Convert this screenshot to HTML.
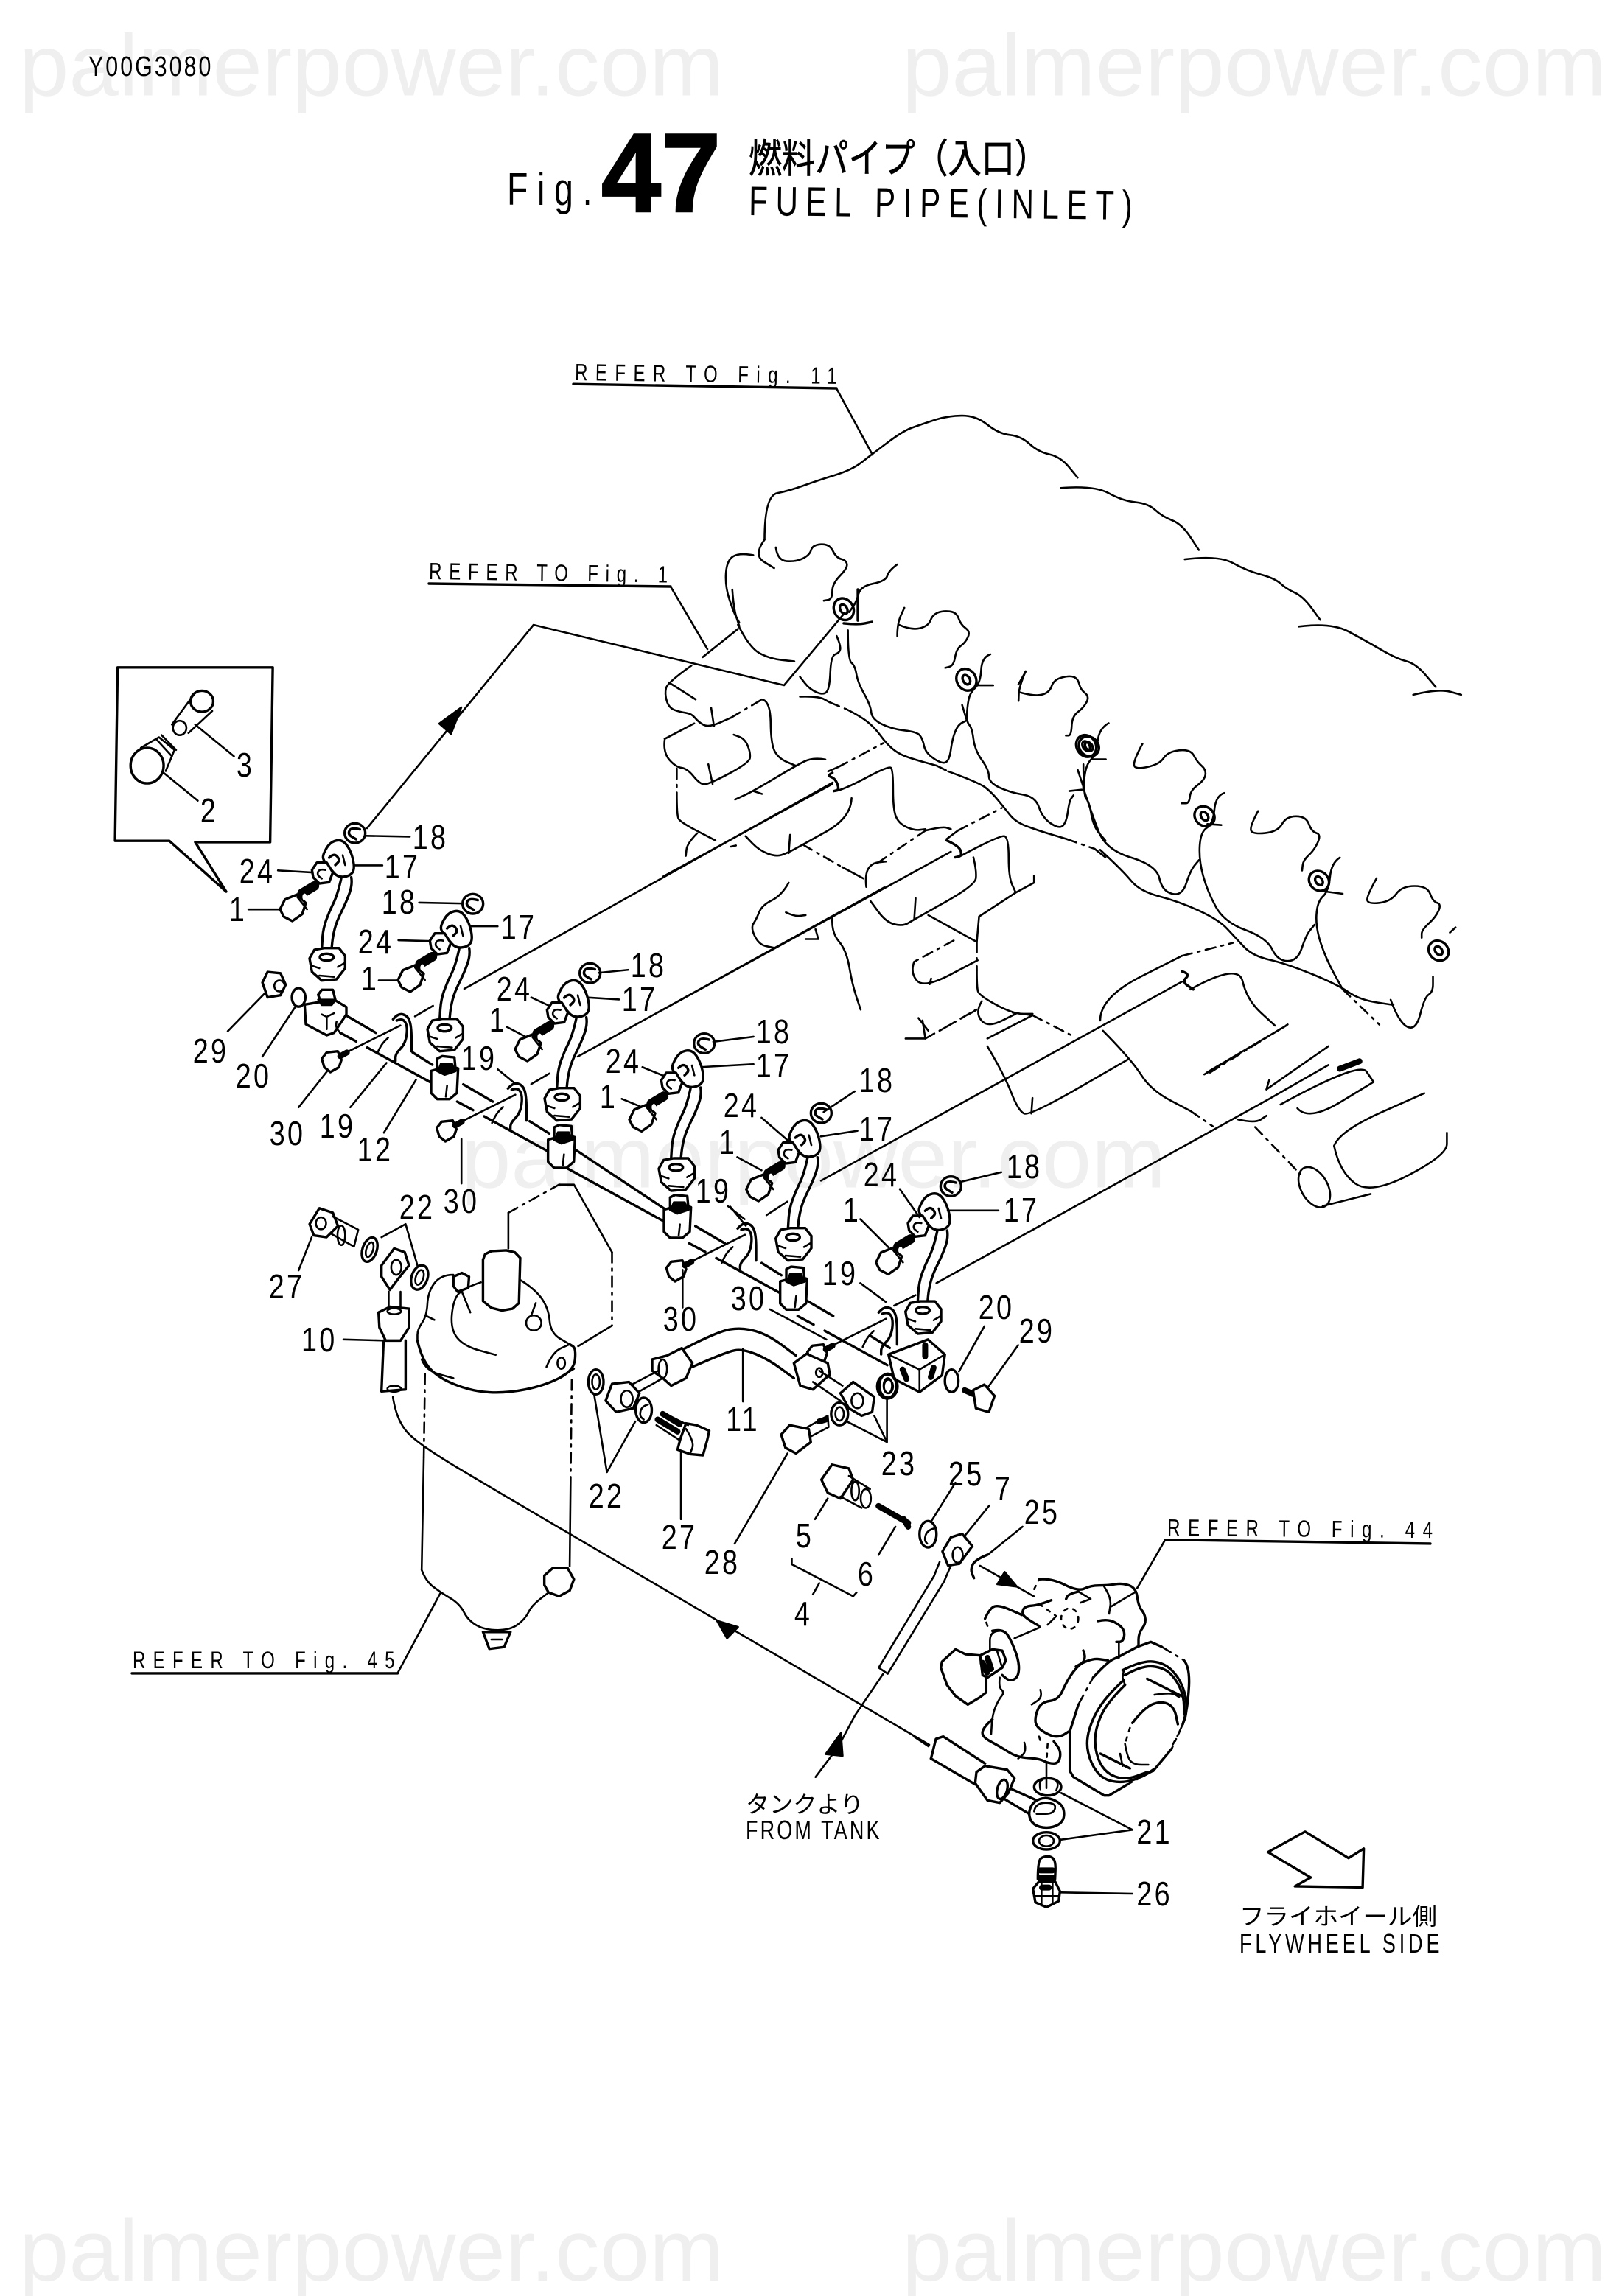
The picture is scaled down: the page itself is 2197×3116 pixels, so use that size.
<!DOCTYPE html>
<html><head><meta charset="utf-8"><title>Fig. 47 Fuel Pipe (Inlet)</title>
<style>
html,body{margin:0;padding:0;background:#fff}
svg{display:block}
path,line,ellipse,polyline{fill:none;stroke:#000;stroke-width:2.6;vector-effect:non-scaling-stroke;stroke-linejoin:round;stroke-linecap:round}
.w{fill:#fff}
.k{fill:#000}
.t{stroke-width:8}
.b{stroke-width:3.4}
.dd{stroke-dasharray:14 8 3 8}
.dt{stroke-dasharray:5 8}
text{font-family:"Liberation Sans","Noto Sans CJK JP",sans-serif;fill:#000}
.n{font-size:23px;text-anchor:middle;letter-spacing:2px}
.r{font-size:16px}
.wm{font-family:"Liberation Sans",sans-serif;font-size:59px;fill:#efefef}
</style></head><body>
<svg xmlns="http://www.w3.org/2000/svg" width="2197" height="3116" viewBox="0 0 1098.5 1558">
<defs>
<g id="pipe">
<path class="s b" d="M730 560 715 630 680 700 655 770 650 850"/>
<path class="s b" d="M770 560 775 590 750 660 710 740 695 800 690 850"/>
<path class="w b" d="M600 890 620 855 660 848 720 848 745 880 745 930 710 975 650 980 610 945Z"/>
<ellipse class="b" cx="670" cy="885" rx="28" ry="14"/>
<path d="M610 920 640 930M740 910 715 925M640 960 700 965"/>
<path class="s w b" d="M655 465 685 415 735 405 770 455 785 525 765 555 715 560 685 525 655 490Z"/>
<path class="s b" d="M680 480 700 460 725 490 705 510"/>
<path class="s" d="M735 470 745 510"/>
<path class="w b" d="M610 530 630 500 670 500 695 540 680 580 640 585 615 560Z"/>
<path class="s" d="M665 530 640 525 630 550 650 565"/>
<path class="s b" d="M805 365 770 355 755 385 790 405"/>
<ellipse class="b" cx="785" cy="380" rx="42" ry="40"/>
<path class="w b" d="M480 690 500 650 550 630 585 665 570 710 530 738 495 720Z"/>
<path class="t" style="stroke-width:13" d="M570 625 620 595"/>
<ellipse class="w" cx="580" cy="640" rx="9" ry="14" style="stroke:none"/>
<path d="M550 640 590 690"/>
</g>
<g id="clip">
<path class="s b" d="M460 850 480 825 520 835 535 880 535 980"/>
<path class="s b" d="M475 855 500 845 520 880 510 950 470 990 470 1020"/>
<path class="s" d="M395 990 410 955 440 925"/>
<path d="M270 985 490 875"/>
<path class="w b" d="M170 1010 190 985 235 980 250 1015 240 1045 205 1065 180 1045Z"/>
<path class="t" d="M245 1000 272 985"/>
</g>
<g id="ring">
<ellipse class="b" rx="17" ry="20" transform="rotate(-30)"/>
<ellipse class="b" rx="6" ry="9" transform="rotate(-30)"/>
</g>
<g id="seg">
<path class="b" d="M270 835 390 905M540 985 620 1035M245 905 310 940M355 965 610 1105"/>
</g>
<g id="blk">
<path class="w b" d="M615 1060 615 1150 640 1175 690 1175 720 1150 725 1050 690 1040Z"/>
<path class="s" d="M680 1120 675 1165"/>
<path class="w b" d="M640 1010 660 1000 710 1005 715 1060 670 1075 640 1060Z"/>
<path class="k" d="M645 1055 655 1030 700 1030 710 1055 670 1072Z"/>
</g>
</defs>

<!-- watermarks -->
<text class="wm" x="13" y="64.7" textLength="478" lengthAdjust="spacingAndGlyphs">palmerpower.com</text>
<text class="wm" x="612" y="64.7" textLength="478" lengthAdjust="spacingAndGlyphs">palmerpower.com</text>
<text class="wm" x="313" y="805.8" textLength="478" lengthAdjust="spacingAndGlyphs">palmerpower.com</text>
<text class="wm" x="13" y="1547.5" textLength="478" lengthAdjust="spacingAndGlyphs">palmerpower.com</text>
<text class="wm" x="612" y="1547.5" textLength="478" lengthAdjust="spacingAndGlyphs">palmerpower.com</text>

<!-- title -->
<text transform="matrix(.8 0 0 1 60 51.5)" font-size="19" textLength="104">Y00G3080</text>
<text transform="matrix(.75 0 0 1 344 139)" font-size="31" textLength="77">Fig.</text>
<text x="408" y="143.5" font-size="76" font-weight="700" stroke="#000" stroke-width="1.2" textLength="81" lengthAdjust="spacingAndGlyphs">47</text>
<text x="508" y="117" font-size="27" textLength="203" lengthAdjust="spacingAndGlyphs" stroke="#000" stroke-width=".4">燃料パイプ（入口）</text>
<text transform="rotate(0.66 508 146) matrix(.75 0 0 1 508 146)" font-size="28" textLength="347">FUEL PIPE(INLET)</text>

<!-- reference labels -->
<text class="r" transform="rotate(0.8 390 258) matrix(.75 0 0 1 390 258)" textLength="237">REFER TO Fig. 11</text>
<text class="r" transform="rotate(0.8 291 393) matrix(.75 0 0 1 291 393)" textLength="216">REFER TO Fig. 1</text>
<text class="r" transform="matrix(.75 0 0 1 90 1132)" textLength="237">REFER TO Fig. 45</text>
<text class="r" transform="rotate(0.5 792 1042) matrix(.75 0 0 1 792 1042)" textLength="240">REFER TO Fig. 44</text>
<path class="b" d="M389 260.6 567.5 263.5"/><path d="M567.5 263.5 592 308.6"/>
<path class="b" d="M291 396 455 398"/><path d="M455 398 480 440.5"/>

<!-- arrow leader to head -->
<path d="M249 562 362 424 532 465 573 416"/>
<path class="k" d="M313 480 298 491 306 498Z"/>
<path d="M315 671 565 531"/>

<!-- z7 engine middle -->
<g transform="translate(450,400) scale(.19133)">
<path class="s" d="M245 0 250 70 270 130"/>
<path d="M140 240 265 140"/>
<path class="s" d="M265 125 305 205 375 245 465 255"/>
<g transform="translate(640,70) scale(2)"><use href="#ring"/></g>
<path class="b" d="M690 0 690 110"/>
<path class="s b" d="M640 120 690 125 740 115"/>
<path class="s" d="M615 165 630 200 625 225 595 235 590 350 570 375 520 355 485 310"/>
<path class="s" d="M485 380 550 378 590 400"/>
<path class="dd" d="M590 400 650 425"/>
<path class="s" d="M650 425 700 450 750 490 790 545 830 580 880 600 970 625"/>
<path class="dd" d="M970 625 1010 645"/>
<path class="s" d="M1010 645 1120 685 1165 720 1210 775 1250 825 1330 855 1430 885"/>
<path class="dd" d="M1430 885 1530 920"/>
<path class="s" d="M1530 920 1568 950"/>
<path class="s" d="M655 145 655 250 680 270 690 330 735 410 740 460 810 495 900 505 920 530 930 580 990 620 1015 605 1025 530 1045 480 1075 465"/>
<path class="s" d="M830 165 830 120 855 65"/>
<path class="s" d="M835 125 880 145 940 130 955 90 990 75 1040 80 1055 125 1090 150 1070 190 1040 210 1030 270 1000 278"/>
<g transform="translate(1075,320) scale(2)"><use href="#ring"/></g>
<path class="s" d="M1160 230 1130 240 1125 330 1090 365 1080 400 1075 470 1095 490 1105 570 1155 640 1155 685 1230 720 1320 735 1345 810 1405 850 1430 825 1440 750 1455 730"/>
<path d="M1060 410 1075 460M1110 340 1170 340"/>
<path class="s" d="M1285 290 1262 345 1260 395"/>
<path class="s" d="M1265 365 1320 380 1370 365 1385 320 1440 305 1470 315 1480 355 1512 380 1490 420 1450 450 1447 518 1428 518"/>
<g transform="translate(1500,555) scale(2)"><use href="#ring"/></g>
<path class="s" d="M1490 620 1490 735 1510 750 1525 840 1568 890"/>
<path d="M1470 640 1490 700M1440 715 1485 710"/>

<path class="s" d="M100 270 15 330 5 370 20 420 60 435 100 440 125 470 160 490 240 455"/>
<path class="dd" d="M240 455 350 390"/>
<path class="s" d="M350 390 380 395 382 550 410 600 470 625"/>
<path class="s" d="M20 330 60 355 115 390"/>
<path class="s" d="M170 420 180 485"/>
<path d="M5 530 110 475"/>
<path class="s" d="M5 535 0 580 45 630 85 635 130 690 160 692 305 615 310 580 290 530 250 515"/>
<path class="s" d="M160 620 175 690"/>
<path class="dd" d="M48 635 48 720"/>
<path class="s" d="M48 720 48 800 60 825 185 890"/>
<path class="s" d="M120 865 85 900 80 945"/>
<path d="M0 1018 600 690"/>
<path class="s b" d="M600 650 580 660 610 670 625 710 605 715"/>
<path class="s" d="M575 603 530 595 470 625 320 715 255 745"/>
<path d="M320 715 350 725"/>
<path class="s" d="M610 715 640 710 800 625 815 640 815 780 835 830 890 855 930 850"/>
<path class="dd" d="M620 630 780 545"/>
<path d="M585 645 620 630"/>
<path class="s" d="M668 740 665 810 495 905 440 935 400 948 340 925 292 875"/>
<path class="s" d="M450 870 445 935"/>
<path d="M240 912 258 908"/>
<path class="dd" d="M495 905 635 985"/>
<path d="M635 985 710 1025"/>
<path class="s" d="M720 1055 715 1010 740 970 790 965"/>
<path class="dd" d="M760 970 930 855"/>
<path class="s" d="M930 855 990 840 1020 850"/>
<path d="M0 1490 1020 930"/>
<path class="s b" d="M1005 890 1050 910 1060 945 1035 950"/>
<path class="s" d="M1055 945 1195 870 1225 880 1225 1020 1250 1075"/>
<path d="M1250 1075 1315 1040 1315 1015M1250 1075 1120 1160 1112 1250 940 1155"/>
<path d="M1005 885 1045 855"/>
<path class="dd" d="M1045 855 1200 775"/>
<path class="s" d="M1100 950 1112 1000 1105 1050 890 1170 850 1195 790 1180 735 1105"/>
<path class="s" d="M895 1095 890 1170"/>
<path class="s" d="M445 1040 420 1085 350 1120 330 1170 310 1200 340 1260 390 1270"/>
<path class="s" d="M435 1145 465 1160 505 1155"/>
<path d="M505 1240 550 1240 540 1205"/>
<path class="s" d="M600 1160 595 1215 650 1280 670 1400 700 1490"/>
<path class="dd" d="M1030 1245 890 1320"/>
<path class="s" d="M890 1320 875 1360 925 1415 1115 1315"/>
<path d="M950 1380 945 1400"/>
<path class="dd" d="M1112 1250 1112 1350"/>
<path class="s" d="M1112 1350 1112 1410 1120 1440 1240 1505 1310 1505"/>
<path class="s" d="M1130 1460 1105 1500 1150 1555 1250 1505"/>
<path class="s" d="M905 1520 940 1565"/>
<path class="dd" d="M980 1565 1110 1490"/>
</g>

<!-- z6 engine right part -->
<g transform="translate(425,275) scale(.3827,.3508)">
<path class="s" d="M245 260 245 175 290 165 340 145 400 125 435 95 490 50 520 38 570 20 620 20 660 55 700 60 730 90 770 100 800 140"/>
<path class="s" d="M770 160 830 155 880 185 925 190 950 215 985 230 1015 280"/>
<path class="s" d="M990 298 1050 290 1100 320 1150 335 1170 355 1200 370 1230 415"/>
<path class="s" d="M1192 428 1250 420 1310 455 1365 490 1400 500 1435 545"/>
<path class="s" d="M1395 560 1440 548 1480 560"/>
<path class="s" d="M245 260 225 290 262 315"/>
<path class="s" d="M225 290 200 285 178 300 175 350 190 400 200 420"/>
<path class="s" d="M265 275 268 300 300 303 325 290 330 270 360 268 372 295 390 300 392 315 365 345 365 375 350 378"/>
<path class="s" d="M480 308 465 320 460 340 415 350 408 380 395 400"/>
<path class="s" d="M855 615 838 625 833 675 815 695 810 740"/>
<path class="s" d="M810 740 825 790 850 860 940 890 950 940 985 950 1000 900 1015 880"/>
<path class="s" d="M708 515 695 540"/>
<path class="s" d="M915 655 900 685 900 705 945 695 960 670 1000 665 1012 690 1028 705 1025 725 1000 745 998 770 985 770"/>
<path class="s" d="M1120 785 1105 815 1110 830 1155 825 1170 795 1205 795 1215 825 1232 830 1220 860 1200 880 1198 900"/>
<path class="s" d="M1330 915 1312 950 1315 965 1355 960 1375 930 1420 930 1430 960 1445 965 1435 990 1410 1015 1410 1030"/>
<path d="M1460 1020 1470 1010"/>
<path class="s" d="M1060 750 1045 755 1040 810 1018 825 1015 880 1030 940 1060 1000 1135 1030 1155 1075 1190 1075 1205 1025 1220 1005"/>
<path class="s" d="M1265 875 1250 885 1245 940 1225 960 1222 1010 1240 1070 1270 1130"/>
<path class="dd" d="M1270 1130 1335 1198"/>
<path class="s" d="M1355 1150 1370 1195 1400 1210 1415 1145 1430 1135 1430 1105"/>
<path class="s" d="M840 860 880 900 910 940 980 960 1050 995 1080 1030 1110 1065 1170 1080 1260 1120 1300 1150 1360 1160"/>
<use href="#ring" x="820" y="660"/><use href="#ring" x="1025" y="795"/><use href="#ring" x="1228" y="920"/><use href="#ring" x="1440" y="1055"/>
<path d="M825 685 850 685M1030 810 1055 812M1235 940 1270 945"/>
<path d="M685 1175 720 1180 640 1225"/>
<path class="dd" d="M720 1180 795 1222"/>
<path class="s" d="M640 1240 670 1295 695 1365 715 1375 890 1265"/>
<path d="M720 1340 718 1370"/>
<path d="M495 1225 530 1225 525 1190"/>
<path class="dd" d="M530 1225 620 1170"/>
<path d="M345 1500 985 1115"/>
<path class="s b" d="M985 1095 1000 1100 985 1115 1005 1130"/>
<path class="s" d="M1000 1130 1085 1078 1100 1150 1150 1200"/>
<path class="s" d="M840 1190 840 1145 985 1065"/>
<path class="dd" d="M985 1065 1075 1040"/>
<path class="s" d="M845 1210 895 1265 930 1325 1000 1365"/>
<path class="dd" d="M1000 1365 1040 1395"/>
<path d="M1170 1200 1030 1290"/>
</g>

<!-- z3 right lower engine -->
<g transform="translate(400,650) scale(.3827,.2551)">
<path d="M615 865 1115 450 1205 375 1310 285"/>
<path d="M1200 350 1310 235M1200 350 1205 325"/>
<path class="s" d="M1225 390 1365 275 1390 330"/>
<path class="s" d="M1255 400 1275 435 1390 330"/>
<path class="t" d="M1330 295 1365 275"/>
<path class="s" d="M1320 500 1330 460 1480 360"/>
<path class="s" d="M1320 500 1330 570 1385 630 1520 525 1520 465"/>
<ellipse cx="1285" cy="610" rx="25" ry="55" transform="rotate(-15 1285 610)"/>
<path d="M1300 660 1385 628"/>
<path class="dd" d="M1180 450 1260 575"/>
<path class="s" d="M1150 430 1180 440 1200 420"/>
<path d="M1090 310 1135 270"/>
<path class="dd" d="M1100 305 1240 175"/>
</g>

<!-- z2 inset and small parts -->
<g transform="translate(50,440) scale(.3508,.287)">
<path class="b" d="M85 45 385 45 380 458 235 458 295 575 185 455 80 455Z"/>
<ellipse class="b" cx="248" cy="125" rx="22" ry="25"/>
<path d="M235 105 190 180M268 148 222 200"/>
<ellipse cx="205" cy="188" rx="13" ry="17"/>
<path d="M235 180 310 255"/>
<ellipse class="b" cx="142" cy="277" rx="32" ry="42"/>
<path d="M130 235 165 210 195 240 178 290"/>
<path d="M160 215 190 255M170 205 198 240"/>
<path d="M175 295 240 360"/>
<path class="b" d="M365 790 375 765 400 768 410 795 400 820 375 825Z"/>
<ellipse cx="398" cy="798" rx="10" ry="13"/>
<ellipse class="b" cx="435" cy="825" rx="13" ry="22"/>
<path d="M298 905 370 815M365 965 430 845M435 1085 490 1000M535 1085 605 980M600 1145 662 1020"/>
<path d="M820 995 855 1030M750 1265 750 1160M1270 1320 1300 1365"/>
<path d="M695 845 660 870M920 1005 885 1030M1380 1308 1340 1340"/>
<path d="M565 443 650 445M540 513 597 513M395 525 465 530M338 617 405 617"/>
<path d="M668 601 750 603M765 657 820 657M628 690 690 692M590 785 630 785"/>
<path d="M1015 767 1072 760M990 825 1055 830M885 825 920 845M838 895 880 922"/>
<path d="M1237 930 1315 918M1212 990 1315 983M1100 990 1140 1010M1060 1065 1100 1085"/>
<path d="M975 965 1568 565"/>
</g>

<!-- z8 rail and pipes (crop coordinates) -->
<g transform="translate(190,550) scale(.16667)">
<use href="#seg"/>
<use href="#seg" x="476" y="280"/>
<path class="b" d="M1201 1380 1563 1620M1166 1455 1558 1670"/>
<use href="#seg" x="1421" y="857"/>
<use href="#seg" x="1862" y="1153"/>
<use href="#blk"/>
<use href="#blk" x="476" y="280"/>
<use href="#blk" x="948" y="565"/>
<use href="#blk" x="1421" y="857"/>
<path class="w b" d="M100 790 105 870 190 915 220 905 270 830 270 800 220 770Z"/>
<path d="M170 830 190 840 220 825M190 840 190 890"/>
<path class="w b" d="M155 750 170 730 215 730 225 770 210 790 170 790Z"/>
<path class="k" d="M155 770 225 770 210 792 170 792Z"/>
<path class="s" d="M230 860 225 880 245 905"/>
<use href="#clip"/>
<use href="#clip" x="468" y="282"/>
<use href="#clip" x="1403" y="852"/>
<use href="#clip" x="1977" y="1194"/>
<use href="#pipe" x="-480" y="-288"/>
<use href="#pipe"/>
<use href="#pipe" x="477" y="282"/>
<use href="#pipe" x="942" y="568"/>
<use href="#pipe" x="1418" y="852"/>
<use href="#pipe" x="1946" y="1150"/>
</g>

<!-- z3 leaders and end block -->
<g transform="translate(400,650) scale(.3827,.2551)">
<path d="M415 410 470 355M410 475 475 460M305 425 355 490M262 530 305 565"/>
<path d="M660 595 730 570M635 672 725 672M550 615 585 690M480 695 530 770"/>
<path d="M165 930 165 830M245 660 275 695M480 865 525 915M320 935 420 1015M700 980 655 1100M760 1030 705 1145M272 1040 272 1180"/>
<path d="M578 897 540 925"/>
<path class="w b" d="M530 1055 600 1015 630 1055 625 1110 585 1155 540 1120Z"/>
<path d="M530 1055 585 1095 630 1055M585 1095 585 1155"/>
<path class="t" d="M595 1030 595 1060"/>
<path class="t" d="M555 1095 562 1120M610 1090 605 1115"/>
<ellipse class="b" cx="642" cy="1125" rx="12" ry="30"/>
<path class="t" d="M665 1150 680 1160"/>
<path class="w b" d="M680 1150 700 1135 718 1165 708 1208 685 1198Z"/>
<ellipse class="b" cx="528" cy="1140" rx="18" ry="32"/>
<ellipse cx="530" cy="1140" rx="8" ry="18"/>
</g>

<!-- z4 filter and pipe 11 -->
<g transform="translate(200,800) scale(.287,.2551)">
<path d="M300 1040 305 740"/>
<path class="dd" d="M305 740 308 510"/>
<path d="M650 1030 652 820"/>
<path class="dd" d="M652 820 655 520"/>
<path class="s" d="M300 1040 310 1070 345 1100 390 1130 410 1175 450 1200 510 1200 545 1170 560 1135 600 1100"/>
<path class="w b" d="M590 1055 610 1035 645 1035 660 1065 650 1095 625 1110 600 1100 590 1080Z"/>
<path class="b" d="M445 1205 510 1205 495 1245 460 1250Z"/>
<path d="M465 1225 490 1225"/>
<path class="s b" d="M290 430 300 480 340 530 420 565 500 570 590 550 660 510 665 450 650 440"/>
<path class="s" d="M300 480 310 510 375 530"/>
<path class="s" d="M440 275 400 290 375 320 368 400 400 445 475 468"/>
<path class="s" d="M535 270 570 295 600 345 605 410 650 440"/>
<path class="b" d="M445 215 445 325 465 343 490 350 515 345 530 330 533 210 520 195 500 190 465 192 450 200 445 215"/>
<path class="s" d="M595 500 610 460 650 440"/>
<path d="M660 505 630 525"/>
<ellipse cx="630" cy="490" rx="9" ry="15"/>
<path class="w b" d="M375 260 395 250 412 260 410 290 385 300 375 285Z"/>
<path d="M395 300 415 355"/>
<path class="s" d="M375 255 345 255 315 300 312 365 290 400 290 430"/>
<path d="M312 365 330 375"/>
<ellipse cx="565" cy="383" rx="18" ry="20"/>
<path d="M570 330 560 360"/>
<path d="M505 185 505 90"/>
<path class="dd" d="M505 90 625 15"/>
<path d="M625 15 660 15 750 195"/>
<path class="dd" d="M750 195 750 390"/>
<path d="M750 390 670 445"/>

<path class="b" d="M205 230 235 185 260 195 270 230 245 265 225 295 205 260Z"/>
<ellipse cx="240" cy="235" rx="12" ry="20"/>
<path d="M222 300 222 345M250 300 250 345"/>
<path class="w b" d="M198 355 225 340 270 345 270 395 250 430 215 430 200 395Z"/>
<ellipse cx="235" cy="352" rx="16" ry="8"/>
<path class="b" d="M210 430 205 565 262 560 262 430"/>
<ellipse cx="235" cy="558" rx="16" ry="8"/>
<ellipse class="b" cx="177" cy="188" rx="17" ry="33" transform="rotate(15 177 188)"/>
<ellipse cx="177" cy="188" rx="8" ry="20" transform="rotate(15 177 188)"/>
<ellipse class="b" cx="295" cy="262" rx="19" ry="33" transform="rotate(15 295 262)"/>
<ellipse cx="295" cy="262" rx="9" ry="20" transform="rotate(15 295 262)"/>
<path d="M205 155 262 120 290 230"/>
<path class="w b" d="M35 120 58 78 90 90 102 125 75 155 45 150Z"/>
<ellipse cx="62" cy="118" rx="12" ry="16"/>
<path d="M90 100 150 135 140 180 85 145"/>
<ellipse cx="110" cy="150" rx="9" ry="26"/>
<path d="M40 155 9 243"/>

<path class="s" d="M232 580 240 640 290 705 500 845"/>
<path d="M500 845 1500 1505"/>
<path class="k" d="M998 1175 1048 1192 1022 1222Z"/>

<!-- pipe 11 -->
<path class="s b" d="M915 455 1000 405 1060 395 1120 415 1185 470"/>
<path class="s b" d="M940 500 1020 460 1060 452 1120 480 1180 530"/>
<path class="w b" d="M845 480 880 470 915 450 940 490 925 530 890 550 870 530 845 510Z"/>
<ellipse cx="870" cy="505" rx="10" ry="25"/>
<path class="w b" d="M1180 490 1210 465 1260 490 1265 520 1225 560 1195 550Z"/>
<ellipse cx="1240" cy="515" rx="8" ry="12"/>
<path d="M800 545 860 510M815 565 870 530"/>
<path class="b" d="M735 590 750 545 790 540 815 570 800 610 760 620Z"/>
<ellipse cx="785" cy="585" rx="14" ry="22"/>
<path d="M1240 510 1295 550M1225 540 1290 590"/>
<path class="b" d="M1290 570 1320 540 1370 580 1365 620 1340 630 1310 610Z"/>
<ellipse cx="1330" cy="590" rx="14" ry="20"/>
<ellipse class="b" cx="712" cy="540" rx="18" ry="33"/>
<ellipse cx="712" cy="540" rx="9" ry="20"/>
<ellipse class="b" cx="825" cy="615" rx="19" ry="33"/>
<path class="s" d="M835 600 820 605 815 630 825 640"/>
<ellipse class="b" cx="1402" cy="550" rx="20" ry="32"/>
<ellipse cx="1402" cy="550" rx="10" ry="20"/>
<ellipse class="b" cx="1288" cy="625" rx="20" ry="30"/>
<ellipse cx="1288" cy="625" rx="10" ry="18"/>

<path class="w b" d="M912 690 925 650 950 655 980 670 975 695 965 735 935 732 905 720Z"/>
<path class="s" d="M925 665 945 700 935 730"/>
<path d="M868 620 930 655M855 655 910 695"/>
<path class="t" d="M858 640 905 672"/><path class="t" d="M870 625 910 652"/>
<path class="w b" d="M1150 680 1170 655 1215 665 1220 700 1185 730 1160 715Z"/>
<path d="M1212 660 1260 630 1262 660 1220 685"/>
<path class="t" d="M1240 645 1255 640"/>
<path class="w b" d="M1245 800 1270 760 1310 770 1320 800 1290 850 1260 835Z"/>
<path d="M1310 790 1360 825M1290 845 1340 875"/>
<ellipse cx="1350" cy="850" rx="12" ry="25"/>
<ellipse cx="1325" cy="830" rx="9" ry="25"/>
<path class="t" d="M1380 870 1450 915"/>
<path class="t" d="M1440 905 1450 925"/>
<ellipse class="b" cx="1497" cy="945" rx="20" ry="35"/>
<path class="s" d="M1510 930 1495 935 1488 960 1495 970"/>

<path d="M913 725 913 905M1165 730 1040 970M708 575 738 780 805 645M1400 580 1400 700 1305 645M1370 630 1400 700"/>
<path d="M115 427 215 430"/>
<path class="b" d="M-385 1315 243 1315"/><path d="M243 1315 345 1100"/>
<path d="M1230 905 1260 850M1380 1000 1420 925M1175 1010 1175 1025 1320 1110 1328 1100M1225 1105 1240 1075"/>
</g>

<!-- z5 banjo 7, tank line, flywheel -->
<g transform="translate(450,975) scale(.3827,.2392)">
<path class="b" d="M495 325 510 285 530 275 548 310 525 360 505 365Z"/>
<ellipse cx="522" cy="335" rx="9" ry="22"/>
<path d="M480 395 382 655 398 672 498 410"/>
<path d="M490 355 480 395M510 365 498 410"/>
<path d="M390 672 340 790 310 880 270 965"/>
<path class="k" d="M315 840 288 900 318 905Z"/>
<path d="M518 130 475 240M578 195 535 280M637 255 575 335"/>
<path class="b" d="M890 292 1360 303"/>
<path d="M890 292 840 430"/>
<path class="b" d="M1072 1178 1138 1120 1215 1195 1242 1168 1240 1278 1120 1275 1148 1250Z"/>
</g>

<!-- z9 pump (crop coordinates) -->
<g transform="translate(620,1050) scale(.16667)">
<path class="s b" d="M300 30 250 50 230 90 245 125"/>
<path d="M270 75 490 200"/>
<path class="k" d="M340 150 370 100 420 160Z"/>
<path class="dt" d="M490 170 510 130"/>
<path class="s b" d="M510 130 560 125 670 180 720 155 790 155 850 145 905 165 915 240 940 270 945 310 915 350 915 400"/>
<path class="s b" d="M670 180 630 190 620 210"/>
<path d="M670 180 720 210 680 225"/>
<path class="s" d="M775 160 805 205 795 270"/>
<path d="M805 240 905 180"/>
<path class="s b" d="M750 300 790 290 845 320 860 350 850 385 825 385"/>
<path d="M835 385 835 450"/>
<ellipse class="dt" cx="635" cy="290" rx="35" ry="42"/>
<path class="s b" d="M560 215 510 235 450 240 440 270 460 290 510 320"/>
<path d="M515 325 410 370"/>
<path class="dt" d="M510 230 580 280"/>
<path d="M580 280 545 315"/>
<path class="dt" d="M300 320 290 290"/>
<path class="s b" d="M290 290 310 245 350 235 440 275"/>
<path class="s b" d="M320 340 365 330 400 385 430 470 425 530 390 545 360 520"/>
<path class="s" d="M350 340 310 340 310 420"/>
<path class="w b" d="M110 490 115 465 170 415 210 435 270 440 295 530 295 590 270 610 220 640 170 605 135 560Z"/>
<path class="w b" d="M270 440 320 415 360 420 375 460 360 490 300 530 280 520Z"/>
<path class="t" d="M280 470 298 510M300 450 315 495"/>
<path class="s" d="M340 425 360 490"/>
<path class="s" d="M350 530 345 570 370 590 345 620 320 680 315 760"/>
<path class="s b" d="M320 700 285 730 275 770 350 810 420 855 510 860 550 880 590 880 600 830 570 790"/>
<path class="s" d="M450 795 460 830 425 860"/>
<path class="s" d="M515 580 525 610 480 640"/>
<path class="s b" d="M690 420 705 455 660 490 620 550 590 620 520 630 495 680 495 730 560 770 600 770 630 750"/>
<path class="s b" d="M660 485 720 450 790 460"/>
<path class="b" d="M835 445 910 405 965 385 1010 405"/>
<path class="dd" d="M1010 405 1100 460"/>
<path class="s b" d="M1100 460 1125 490 1115 650 1095 720"/>
<path class="dd" d="M1095 720 1050 820"/>
<path class="b" d="M1050 820 975 910"/>
<path class="dd" d="M975 910 870 965"/>
<path class="b" d="M870 965 795 1010 775 1010 650 935 635 910 635 750 670 640"/>
<path class="dd" d="M670 640 730 530"/>
<path class="s b" d="M730 530 790 465 835 445"/>
<path class="s b" d="M855 540 790 600 730 690 700 790 720 880 770 945 850 960 930 935 975 905"/>
<path class="s b" d="M860 560 790 630 745 720 735 800 755 880 800 930 870 945 950 915"/>
<path class="s b" d="M850 500 930 460 1020 470 1080 530 1110 610 1110 680 1095 720"/>
<path class="s b" d="M860 520 930 480 1020 490 1070 540 1100 610 1100 680"/>
<path d="M855 500 850 530 860 560"/>
<path class="b" d="M950 535 1040 580 1090 605"/>
<path class="s" d="M980 600 1050 590 1080 610"/>
<path class="s b" d="M890 715 940 650 1010 625 1060 650 1075 720"/>
<path class="dt" d="M880 735 860 800"/>
<path class="s" d="M860 800 870 860 900 885 955 885"/>
<path class="dt" d="M1080 755 1040 830"/>
<path class="b" d="M760 840 880 900"/>
<path class="s" d="M840 840 850 890"/>
<path class="dt" d="M545 800 540 880"/>
<path d="M540 880 540 980"/>
<path class="dt" d="M510 770 520 805"/>
<!-- hose -->
<path d="M0 770 60 810"/>
<path class="b" d="M70 860 90 780 120 770 290 880"/>
<path class="b" d="M70 860 250 965"/>
<path class="w b" d="M250 960 255 915 290 890 380 905 410 940 385 1000 350 1040 300 1030Z"/>
<ellipse class="b" cx="360" cy="985" rx="20" ry="40" transform="rotate(15 360 985)"/>
<path class="b" d="M400 985 500 1030M370 1025 470 1085"/>
<ellipse class="b" cx="545" cy="975" rx="55" ry="35"/>
<path class="s" d="M515 985 510 955 525 945M575 945 590 960 580 990"/>
<path class="s w b" d="M465 1085 485 1035 540 1015 605 1045 615 1095 595 1130 540 1145 485 1130Z"/>
<path class="s" d="M490 1075 495 1040 580 1040 570 1085 500 1085"/>
<ellipse class="b" cx="540" cy="1195" rx="55" ry="35"/>
<ellipse cx="540" cy="1195" rx="30" ry="22"/>
<path d="M890 1150 600 1000M890 1150 600 1190"/>
<path class="s b" d="M505 1350 505 1275 530 1258 560 1258 578 1280 575 1350"/>
<path class="t" d="M515 1315 565 1315M515 1345 565 1345"/>
<path class="w b" d="M485 1390 510 1360 575 1360 595 1400 590 1440 540 1465 495 1445Z"/>
<path class="t" d="M522 1385 550 1385"/>
<path d="M490 1420 592 1420M520 1365 520 1450M565 1365 565 1450"/>
<path d="M600 1405 890 1410"/>
</g>

<!-- numbers -->
<g>
<text class="n" transform="matrix(.82 0 0 1 166.5 527)">3</text><text class="n" transform="matrix(.82 0 0 1 142 558)">2</text>
<text class="n" transform="matrix(.82 0 0 1 292 576)">18</text><text class="n" transform="matrix(.82 0 0 1 273 596)">17</text><text class="n" transform="matrix(.82 0 0 1 174.5 599)">24</text><text class="n" transform="matrix(.82 0 0 1 161.5 625)">1</text>
<text class="n" transform="matrix(.82 0 0 1 271 620)">18</text><text class="n" transform="matrix(.82 0 0 1 352 637)">17</text><text class="n" transform="matrix(.82 0 0 1 255 647)">24</text><text class="n" transform="matrix(.82 0 0 1 251 672)">1</text>
<text class="n" transform="matrix(.82 0 0 1 440 663)">18</text><text class="n" transform="matrix(.82 0 0 1 349 679)">24</text><text class="n" transform="matrix(.82 0 0 1 434 686)">17</text><text class="n" transform="matrix(.82 0 0 1 338 700)">1</text>
<text class="n" transform="matrix(.82 0 0 1 143 721)">29</text><text class="n" transform="matrix(.82 0 0 1 172 738)">20</text><text class="n" transform="matrix(.82 0 0 1 195 777)">30</text><text class="n" transform="matrix(.82 0 0 1 229 772)">19</text><text class="n" transform="matrix(.82 0 0 1 254.5 788)">12</text><text class="n" transform="matrix(.82 0 0 1 325 726)">19</text>
<text class="n" transform="matrix(.82 0 0 1 525 708)">18</text><text class="n" transform="matrix(.82 0 0 1 525 731)">17</text><text class="n" transform="matrix(.82 0 0 1 423 728)">24</text><text class="n" transform="matrix(.82 0 0 1 413 752)">1</text>
<text class="n" transform="matrix(.82 0 0 1 595 741)">18</text><text class="n" transform="matrix(.82 0 0 1 503 758)">24</text><text class="n" transform="matrix(.82 0 0 1 595 774)">17</text><text class="n" transform="matrix(.82 0 0 1 494 783)">1</text>
<text class="n" transform="matrix(.82 0 0 1 695 799.5)">18</text><text class="n" transform="matrix(.82 0 0 1 693 829)">17</text><text class="n" transform="matrix(.82 0 0 1 598 805)">24</text><text class="n" transform="matrix(.82 0 0 1 578 829)">1</text>
<text class="n" transform="matrix(.82 0 0 1 484 816)">19</text><text class="n" transform="matrix(.82 0 0 1 570 872)">19</text><text class="n" transform="matrix(.82 0 0 1 508 889)">30</text><text class="n" transform="matrix(.82 0 0 1 462 903)">30</text><text class="n" transform="matrix(.82 0 0 1 313 823)">30</text>
<text class="n" transform="matrix(.82 0 0 1 283 827)">22</text><text class="n" transform="matrix(.82 0 0 1 194.5 881)">27</text><text class="n" transform="matrix(.82 0 0 1 676 895)">20</text><text class="n" transform="matrix(.82 0 0 1 703.5 911)">29</text>
<text class="n" transform="matrix(.82 0 0 1 216.6 917)">10</text><text class="n" transform="matrix(.82 0 0 1 504 971)">11</text><text class="n" transform="matrix(.82 0 0 1 411.5 1023)">22</text><text class="n" transform="matrix(.82 0 0 1 610 1001)">23</text><text class="n" transform="matrix(.82 0 0 1 461 1051)">27</text><text class="n" transform="matrix(.82 0 0 1 490 1068)">28</text>
<text class="n" transform="matrix(.82 0 0 1 655.6 1008)">25</text><text class="n" transform="matrix(.82 0 0 1 681 1018)">7</text><text class="n" transform="matrix(.82 0 0 1 707 1034)">25</text><text class="n" transform="matrix(.82 0 0 1 546 1050)">5</text><text class="n" transform="matrix(.82 0 0 1 588 1076)">6</text><text class="n" transform="matrix(.82 0 0 1 545 1103)">4</text>
<text class="n" transform="matrix(.82 0 0 1 783.3 1251)">21</text><text class="n" transform="matrix(.82 0 0 1 783.3 1293)">26</text>
</g>

<text x="506" y="1230" font-size="16" textLength="80" lengthAdjust="spacingAndGlyphs">タンクより</text>
<text transform="matrix(.75 0 0 1 506 1248)" font-size="18" textLength="121">FROM TANK</text>
<text x="841" y="1306" font-size="16" textLength="134" lengthAdjust="spacingAndGlyphs">フライホイール側</text>
<text transform="matrix(.75 0 0 1 841 1325)" font-size="18" textLength="181">FLYWHEEL SIDE</text>
</svg>
<script>
document.querySelectorAll('path.s').forEach(function(p){
  var out='';
  p.getAttribute('d').split('M').forEach(function(sub){
    if(!sub.trim())return;
    var closed=/Z/i.test(sub);
    var n=sub.replace(/Z/ig,'').trim().split(/[\s,]+/).map(Number),pts=[];
    for(var i=0;i+1<n.length;i+=2)pts.push([n[i],n[i+1]]);
    var mid=function(a,b){return ((a[0]+b[0])/2)+' '+((a[1]+b[1])/2)};
    if(closed){
      out+='M'+mid(pts[pts.length-1],pts[0]);
      for(var j=0;j<pts.length;j++)out+='Q'+pts[j][0]+' '+pts[j][1]+' '+mid(pts[j],pts[(j+1)%pts.length]);
      out+='Z';
    }else{
      out+='M'+pts[0][0]+' '+pts[0][1];
      for(var k=1;k<pts.length-1;k++)out+='Q'+pts[k][0]+' '+pts[k][1]+' '+mid(pts[k],pts[k+1]);
      var l=pts[pts.length-1];out+='L'+l[0]+' '+l[1];
    }
  });
  p.setAttribute('d',out);
});
</script>
</body></html>
